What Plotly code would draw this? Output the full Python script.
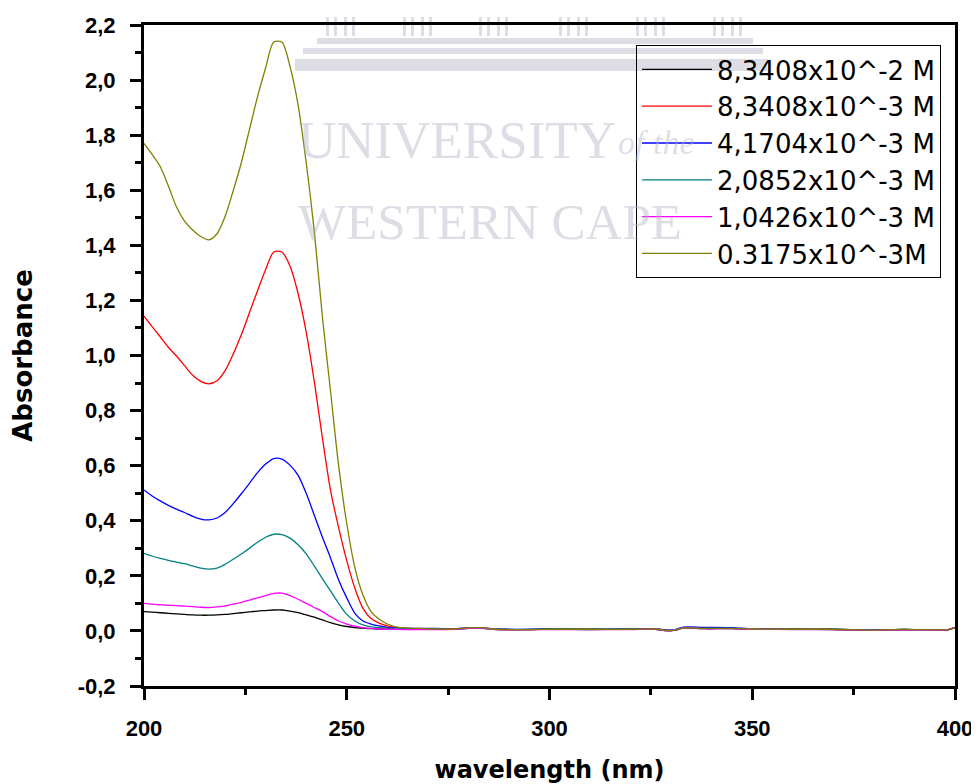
import plotly.graph_objects as go

# ---------------- data ----------------
wavelength = [200, 202, 204, 206, 208, 210, 212, 214, 216, 218, 220, 222, 224, 226, 228,
              230, 232, 234, 236, 238, 240, 242, 244, 246, 248, 250, 252, 254, 256, 258,
              260, 262, 264,
              268, 272, 276, 280, 283, 286, 290, 295, 300, 310, 320, 326, 329, 331, 333,
              338, 345, 350, 360, 370, 379, 385, 390, 396, 398, 400]

conc_labels = ["8,3408x10^-2 M", "8,3408x10^-3 M", "4,1704x10^-3 M",
               "2,0852x10^-3 M", "1,0426x10^-3 M", "0.3175x10^-3M"]

abs_c1 = [0.070, 0.068, 0.066, 0.064, 0.062, 0.060, 0.058, 0.057, 0.057, 0.058, 0.060, 0.063,
          0.066, 0.069, 0.072, 0.074, 0.076, 0.076, 0.072, 0.066, 0.058, 0.050, 0.040, 0.030,
          0.022, 0.016, 0.012, 0.010, 0.008, 0.007, 0.007, 0.006, 0.006,
          0.006, 0.006, 0.006, 0.009, 0.010, 0.006, 0.005, 0.005, 0.006, 0.005, 0.006, 0.006,
          0.001, 0.003, 0.010, 0.008, 0.008, 0.006, 0.006, 0.005, 0.003, 0.004, 0.005, 0.004,
          0.003, 0.011]

abs_c2 = [1.143, 1.105, 1.068, 1.030, 0.998, 0.963, 0.928, 0.906, 0.897, 0.908, 0.945, 1.005,
          1.075, 1.155, 1.235, 1.312, 1.376, 1.376, 1.325, 1.225, 1.085, 0.905, 0.700, 0.510,
          0.375, 0.255, 0.155, 0.082, 0.045, 0.028, 0.018, 0.013, 0.010,
          0.008, 0.007, 0.007, 0.010, 0.011, 0.007, 0.005, 0.005, 0.006, 0.006, 0.006, 0.007,
          0.002, 0.003, 0.011, 0.009, 0.009, 0.007, 0.006, 0.006, 0.003, 0.005, 0.005, 0.004,
          0.004, 0.012]

abs_c3 = [0.512, 0.490, 0.472, 0.456, 0.442, 0.430, 0.416, 0.406, 0.403, 0.410, 0.430, 0.462,
          0.498, 0.536, 0.575, 0.606, 0.626, 0.624, 0.602, 0.565, 0.500, 0.420, 0.340, 0.265,
          0.185, 0.120, 0.064, 0.036, 0.025, 0.018, 0.013, 0.011, 0.010,
          0.009, 0.009, 0.008, 0.010, 0.010, 0.008, 0.006, 0.006, 0.007, 0.006, 0.007, 0.008,
          0.003, 0.005, 0.014, 0.013, 0.012, 0.007, 0.006, 0.006, 0.004, 0.005, 0.005, 0.004,
          0.004, 0.012]

abs_c4 = [0.282, 0.272, 0.263, 0.256, 0.250, 0.244, 0.236, 0.228, 0.224, 0.228, 0.242, 0.260,
          0.279, 0.300, 0.322, 0.340, 0.351, 0.350, 0.337, 0.313, 0.280, 0.236, 0.190, 0.145,
          0.100, 0.060, 0.036, 0.022, 0.015, 0.012, 0.010, 0.009, 0.008,
          0.008, 0.007, 0.007, 0.010, 0.011, 0.007, 0.005, 0.005, 0.006, 0.006, 0.006, 0.007,
          0.001, 0.004, 0.011, 0.009, 0.009, 0.007, 0.006, 0.006, 0.003, 0.005, 0.005, 0.004,
          0.004, 0.011]

abs_c5 = [0.100, 0.097, 0.095, 0.093, 0.092, 0.090, 0.088, 0.086, 0.085, 0.087, 0.091, 0.097,
          0.104, 0.112, 0.120, 0.128, 0.136, 0.137, 0.128, 0.115, 0.100, 0.085, 0.070, 0.052,
          0.036, 0.025, 0.017, 0.012, 0.009, 0.007, 0.006, 0.006, 0.005,
          0.005, 0.005, 0.006, 0.009, 0.010, 0.006, 0.004, 0.005, 0.005, 0.005, 0.005, 0.006,
          0.000, 0.003, 0.010, 0.008, 0.008, 0.006, 0.005, 0.005, 0.002, 0.004, 0.004, 0.003,
          0.003, 0.013]

abs_c6 = [1.770, 1.730, 1.686, 1.616, 1.540, 1.488, 1.456, 1.432, 1.420, 1.442, 1.505, 1.598,
          1.700, 1.820, 1.940, 2.045, 2.138, 2.138, 2.050, 1.910, 1.700, 1.450, 1.140, 0.870,
          0.600, 0.390, 0.230, 0.130, 0.070, 0.042, 0.025, 0.015, 0.011,
          0.009, 0.007, 0.007, 0.011, 0.012, 0.007, 0.005, 0.005, 0.006, 0.006, 0.006, 0.007,
          0.001, 0.003, 0.011, 0.009, 0.009, 0.007, 0.006, 0.006, 0.003, 0.005, 0.005, 0.004,
          0.004, 0.012]

series = [abs_c1, abs_c2, abs_c3, abs_c4, abs_c5, abs_c6]
colors = ["#000000", "#FF0000", "#0000FF", "#008080", "#FF00FF", "#808000"]

y_tickvals = [-0.2, 0.0, 0.2, 0.4, 0.6, 0.8, 1.0, 1.2, 1.4, 1.6, 1.8, 2.0, 2.2]
y_ticktext = ["-0,2", "0,0", "0,2", "0,4", "0,6", "0,8", "1,0", "1,2", "1,4", "1,6",
              "1,8", "2,0", "2,2"]
x_tickvals = [200, 250, 300, 350, 400]

# ---------------- figure ----------------
fig = go.Figure()
for lab, vals, col in zip(conc_labels, series, colors):
    fig.add_trace(go.Scatter(x=wavelength, y=vals, mode="lines", name=lab,
                             line=dict(color=col, width=1.3, shape="spline", smoothing=0.8)))

FONT = "Arial, 'Liberation Sans', sans-serif"
WIDE = "'DejaVu Sans', Arial, sans-serif"
SERIF = "'Liberation Serif', 'DejaVu Serif', serif"
wm = "rgba(175,175,195,0.42)"
# plot area in page pixels (page has an 8px body margin)
L, T, W, H = 144, 25, 811, 661


def px(x):
    return (x - L) / W


def py(y):
    return (T + H - y) / H


# faint watermark (University of the Western Cape) behind the chart
shapes = []
for x0, x1, y0, y1 in [(317, 753, 38, 44), (303, 763, 48, 54), (295, 767, 59, 71)]:
    shapes.append(dict(type="rect", xref="paper", yref="paper",
                       x0=px(x0), x1=px(x1), y0=py(y1), y1=py(y0),
                       fillcolor=wm, line=dict(width=0), layer="below"))
for cx in [340, 417, 493, 573, 650, 727]:
    for dx in (-14, -6, 4, 12):
        shapes.append(dict(type="rect", xref="paper", yref="paper",
                           x0=px(cx + dx), x1=px(cx + dx + 3), y0=py(36), y1=py(T - 8),
                           fillcolor=wm, line=dict(width=0), layer="below"))

annotations = [
    dict(text="UNIVERSITY", x=px(296), y=py(140), xref="paper", yref="paper",
         xanchor="left", yanchor="middle", showarrow=False,
         font=dict(family=SERIF, size=53, color=wm)),
    dict(text="<i>of the</i>", x=px(616), y=py(143), xref="paper", yref="paper",
         xanchor="left", yanchor="middle", showarrow=False,
         font=dict(family=SERIF, size=34, color=wm)),
    dict(text="WESTERN CAPE", x=px(296), y=py(222), xref="paper", yref="paper",
         xanchor="left", yanchor="middle", showarrow=False,
         font=dict(family=SERIF, size=51, color=wm)),
]

fig.update_layout(
    width=971, height=776,
    margin=dict(l=136, r=24, t=17, b=98, autoexpand=False),
    paper_bgcolor="white", plot_bgcolor="rgba(0,0,0,0)",
    font=dict(family=FONT, color="black"),
    showlegend=True,
    legend=dict(x=px(941), y=py(45), xanchor="right", yanchor="top",
                bgcolor="rgba(0,0,0,0)", bordercolor="black", borderwidth=1,
                font=dict(family=WIDE, size=26, color="black"),
                itemwidth=70, tracegroupgap=0),
    shapes=shapes,
    annotations=annotations,
)

fig.update_xaxes(
    range=[200, 400], tickvals=x_tickvals, ticktext=[str(v) for v in x_tickvals],
    showgrid=False, zeroline=False, automargin=False,
    showline=True, linecolor="black", linewidth=3, mirror=True,
    ticks="outside", ticklen=11, tickwidth=3, tickcolor="black",
    minor=dict(ticks="outside", dtick=25, tick0=200, ticklen=6, tickwidth=3, tickcolor="black"),
    tickfont=dict(family=FONT, size=22, color="black", weight="bold"),
    ticklabelstandoff=10,
    title=dict(text="<b>wavelength (nm)</b>", font=dict(family=WIDE, size=24, color="black"),
               standoff=30),
)
fig.update_yaxes(
    range=[-0.2, 2.2], tickvals=y_tickvals, ticktext=y_ticktext,
    showgrid=False, zeroline=False, automargin=False,
    showline=True, linecolor="black", linewidth=3, mirror=True,
    ticks="outside", ticklen=11, tickwidth=3, tickcolor="black",
    minor=dict(ticks="outside", dtick=0.1, tick0=-0.2, ticklen=6, tickwidth=3, tickcolor="black"),
    tickfont=dict(family=FONT, size=22, color="black", weight="bold"),
    ticklabelstandoff=10,
    title=dict(text="<b>Absorbance</b>", font=dict(family=WIDE, size=26, color="black"),
               standoff=40),
)

fig.write_html("out.html")
